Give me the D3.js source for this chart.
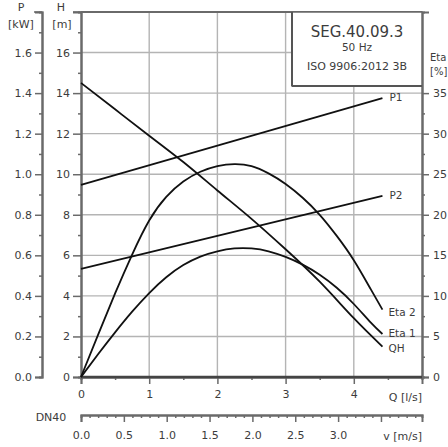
<!DOCTYPE html>
<html><head><meta charset="utf-8">
<script src="https://cdn.jsdelivr.net/npm/d3@7"></script>
<style>
html,body{margin:0;padding:0;background:#fff;}
svg{display:block;font-family:"DejaVu Sans",Verdana,sans-serif;}
</style></head>
<body>
<svg id="c" width="448" height="447"></svg>
<script>
// ---- data ----
const qTicks = [0, 1, 2, 3, 4];
const hTicks = [0, 2, 4, 6, 8, 10, 12, 14, 16];
const pTicks = [0, 0.2, 0.4, 0.6, 0.8, 1.0, 1.2, 1.4, 1.6];
const etaTicks = [0, 5, 10, 15, 20, 25, 30, 35];
const vTicks = [0, 0.5, 1.0, 1.5, 2.0, 2.5, 3.0, 3.5];
const vLabelled = [0, 0.5, 1.0, 1.5, 2.0, 2.5, 3.0];

const qQH = [0, 0.5, 1, 1.5, 2, 2.5, 3, 3.5, 4, 4.42];
const headQH = [14.5, 13.2, 11.9, 10.6, 9.2, 7.8, 6.3, 4.7, 2.9, 1.5];

const qEta = [0, 0.25, 0.5, 0.75, 1, 1.25, 1.5, 1.75, 2, 2.25, 2.5, 2.75, 3, 3.25, 3.5, 3.75, 4, 4.25, 4.42];
const eta2 = [0, 5.2, 10.3, 15.1, 19.3, 22.2, 24.1, 25.3, 26.0, 26.25, 26.0, 25.1, 23.8, 22.1, 20.0, 17.4, 14.4, 10.8, 8.3];
const eta1 = [0, 2.8, 5.5, 8.05, 10.35, 12.3, 13.8, 14.85, 15.5, 15.85, 15.85, 15.5, 14.8, 13.85, 12.6, 11.0, 9.0, 6.7, 5.3];

const qP = [0, 4.42];
const p1 = [0.947, 1.375];
const p2 = [0.533, 0.893];

const titleLines = ["SEG.40.09.3", "50 Hz", "ISO 9906:2012 3B"];
const curveLabels = ["P1", "P2", "Eta 2", "Eta 1", "QH"];

// ---- scales ----
const svg = d3.select("#c");
const x = d3.scaleLinear().domain([0, 5]).range([81, 422]);
const yH = d3.scaleLinear().domain([0, 18]).range([377, 12]);
const yP = d3.scaleLinear().domain([0, 1.8]).range([377, 12]);
const yE = d3.scaleLinear().domain([0, 45]).range([377, 12]);
const vFactor = 1 / (Math.PI * 0.02 * 0.02) / 1000; // l/s -> m/s for DN40
const xv = d3.scaleLinear().domain([0, 5 * vFactor]).range([81, 422]);

const textCol = "#3c3c3c";
const gridCol = "#b4b4b4";
const axisCol = "#6a6a6a";
const fs = 11;

// grid
const g = svg.append("g");
g.selectAll(".hg").data(hTicks.filter(d => d > 0)).join("line")
  .attr("x1", x(0)).attr("x2", d => d >= 16 ? 292 : x(5))
  .attr("y1", d => yH(d)).attr("y2", d => yH(d))
  .attr("stroke", gridCol).attr("stroke-width", 1.4);
g.selectAll(".vg").data(qTicks.filter(d => d > 0)).join("line")
  .attr("x1", d => x(d)).attr("x2", d => x(d))
  .attr("y1", yH(0)).attr("y2", d => x(d) > 292 ? 86 : yH(18))
  .attr("stroke", gridCol).attr("stroke-width", 1.4);

// H axis (left of plot)
const hAxis = d3.axisLeft(yH).tickValues(hTicks).tickSize(8).tickPadding(3).tickFormat(d3.format("d"));
svg.append("g").attr("transform", `translate(${x(0)},0)`).call(hAxis);
const hMinor = d3.axisLeft(yH).tickValues(d3.range(1, 18, 2)).tickSize(3).tickFormat("");
svg.append("g").attr("transform", `translate(${x(0)},0)`).call(hMinor);

// P axis
const pAxis = d3.axisLeft(yP).tickValues(pTicks).tickSize(7).tickPadding(3).tickFormat(d3.format(".1f"));
svg.append("g").attr("transform", "translate(42,0)").call(pAxis);
const pMinor = d3.axisLeft(yP).tickValues(d3.range(0.1, 1.8, 0.2)).tickSize(3).tickFormat("");
svg.append("g").attr("transform", "translate(42,0)").call(pMinor);
// top ticks for P and H
svg.append("line").attr("x1", 34).attr("x2", 42).attr("y1", 12).attr("y2", 12).attr("stroke", axisCol).attr("stroke-width", 1.5);
svg.append("line").attr("x1", 73).attr("x2", 81).attr("y1", 12).attr("y2", 12).attr("stroke", axisCol).attr("stroke-width", 1.5);

// Eta axis (right)
const eAxis = d3.axisRight(yE).tickValues(etaTicks).tickSize(7).tickPadding(4).tickFormat(d3.format("d"));
svg.append("g").attr("transform", `translate(${x(5)},0)`).call(eAxis);
const eMinor = d3.axisRight(yE).tickValues(d3.range(2.5, 36, 5)).tickSize(3).tickFormat("");
svg.append("g").attr("transform", `translate(${x(5)},0)`).call(eMinor);

// Q axis
const qAxis = d3.axisBottom(x).tickValues(qTicks).tickSize(7).tickPadding(6).tickFormat(d3.format("d"));
svg.append("g").attr("transform", `translate(0,${yH(0)})`).call(qAxis);
const qMinor = d3.axisBottom(x).tickValues([0.5, 1.5, 2.5, 3.5, 4.5]).tickSize(3).tickFormat("");
svg.append("g").attr("transform", `translate(0,${yH(0)})`).call(qMinor);

// velocity axis
const vAxis = d3.axisBottom(xv).tickValues(vTicks).tickSize(7).tickPadding(9)
  .tickFormat(d => vLabelled.includes(d) ? d3.format(".1f")(d) : "");
svg.append("g").attr("transform", "translate(0,415)").call(vAxis);
const vMinor = d3.axisBottom(xv).tickValues(d3.range(0.1, 3.95, 0.1).filter(v => Math.abs(v * 2 - Math.round(v * 2)) > 0.01)).tickSize(3).tickFormat("");
svg.append("g").attr("transform", "translate(0,415)").call(vMinor);

// style axes
svg.selectAll(".domain").attr("stroke", axisCol).attr("stroke-width", 2);
svg.selectAll(".tick line").attr("stroke", axisCol).attr("stroke-width", 1.5);
svg.selectAll(".tick text").attr("fill", textCol).attr("font-size", fs).attr("font-family", "DejaVu Sans, Verdana, sans-serif");

// plot frame: top border, bottom line
svg.append("line").attr("x1", x(0)).attr("x2", x(5)).attr("y1", 12).attr("y2", 12).attr("stroke", axisCol).attr("stroke-width", 2);
svg.append("line").attr("x1", x(0)).attr("x2", x(5)).attr("y1", yH(0)).attr("y2", yH(0)).attr("stroke", "#444").attr("stroke-width", 2.5);

// legend box
svg.append("rect").attr("x", 292).attr("y", 12).attr("width", 130).attr("height", 74)
  .attr("fill", "#fff").attr("stroke", axisCol).attr("stroke-width", 1.5);
svg.append("line").attr("x1", 292).attr("x2", 292).attr("y1", 12).attr("y2", 86).attr("stroke", "#555").attr("stroke-width", 2);
svg.append("line").attr("x1", 292).attr("x2", 422).attr("y1", 86).attr("y2", 86).attr("stroke", "#555").attr("stroke-width", 2);
const tSizes = [15, 10.5, 11];
const tYs = [32, 48, 67];
svg.selectAll(".tt").data(titleLines).join("text")
  .attr("x", 357).attr("y", (d, i) => tYs[i]).attr("text-anchor", "middle").attr("dominant-baseline", "middle")
  .attr("font-size", (d, i) => tSizes[i]).attr("fill", textCol).text(d => d);

// curves
const line = d3.line().x(d => x(d[0])).y(d => d[1]).curve(d3.curveNatural);
const curves = [
  qQH.map((q, i) => [q, yH(headQH[i])]),
  qEta.map((q, i) => [q, yE(eta2[i])]),
  qEta.map((q, i) => [q, yE(eta1[i])]),
  qP.map((q, i) => [q, yP(p1[i])]),
  qP.map((q, i) => [q, yP(p2[i])])
];
svg.selectAll(".crv").data(curves).join("path")
  .attr("d", line).attr("fill", "none").attr("stroke", "#111").attr("stroke-width", 1.8);

// curve labels
const labelPos = [
  [x(qP[1]) + 7, yP(p1[1])],
  [x(qP[1]) + 7, yP(p2[1])],
  [x(qEta[qEta.length - 1]) + 6, yE(eta2[eta2.length - 1]) + 3],
  [x(qEta[qEta.length - 1]) + 6, yE(eta1[eta1.length - 1])],
  [x(qQH[qQH.length - 1]) + 6, yH(headQH[headQH.length - 1]) + 2]
];
svg.selectAll(".cl").data(curveLabels).join("text")
  .attr("x", (d, i) => labelPos[i][0]).attr("y", (d, i) => labelPos[i][1])
  .attr("dominant-baseline", "middle").attr("font-size", 10.5).attr("fill", textCol).text(d => d);

// axis titles
const titles = [
  {t: "P", x: 21, y: 8, a: "middle", s: fs},
  {t: "[kW]", x: 21, y: 25, a: "middle", s: fs},
  {t: "H", x: 61, y: 8, a: "middle", s: fs},
  {t: "[m]", x: 62, y: 25, a: "middle", s: fs},
  {t: "Eta", x: 430, y: 58, a: "start", s: 10},
  {t: "[%]", x: 430, y: 72, a: "start", s: 10},
  {t: "Q [l/s]", x: 422, y: 398, a: "end", s: fs},
  {t: "v [m/s]", x: 422, y: 437, a: "end", s: fs},
  {t: "DN40", x: 51, y: 418, a: "middle", s: fs}
];
svg.selectAll(".at").data(titles).join("text")
  .attr("x", d => d.x).attr("y", d => d.y).attr("text-anchor", d => d.a).attr("dominant-baseline", "middle")
  .attr("font-size", d => d.s).attr("fill", textCol).text(d => d.t);
</script>
</body></html>
